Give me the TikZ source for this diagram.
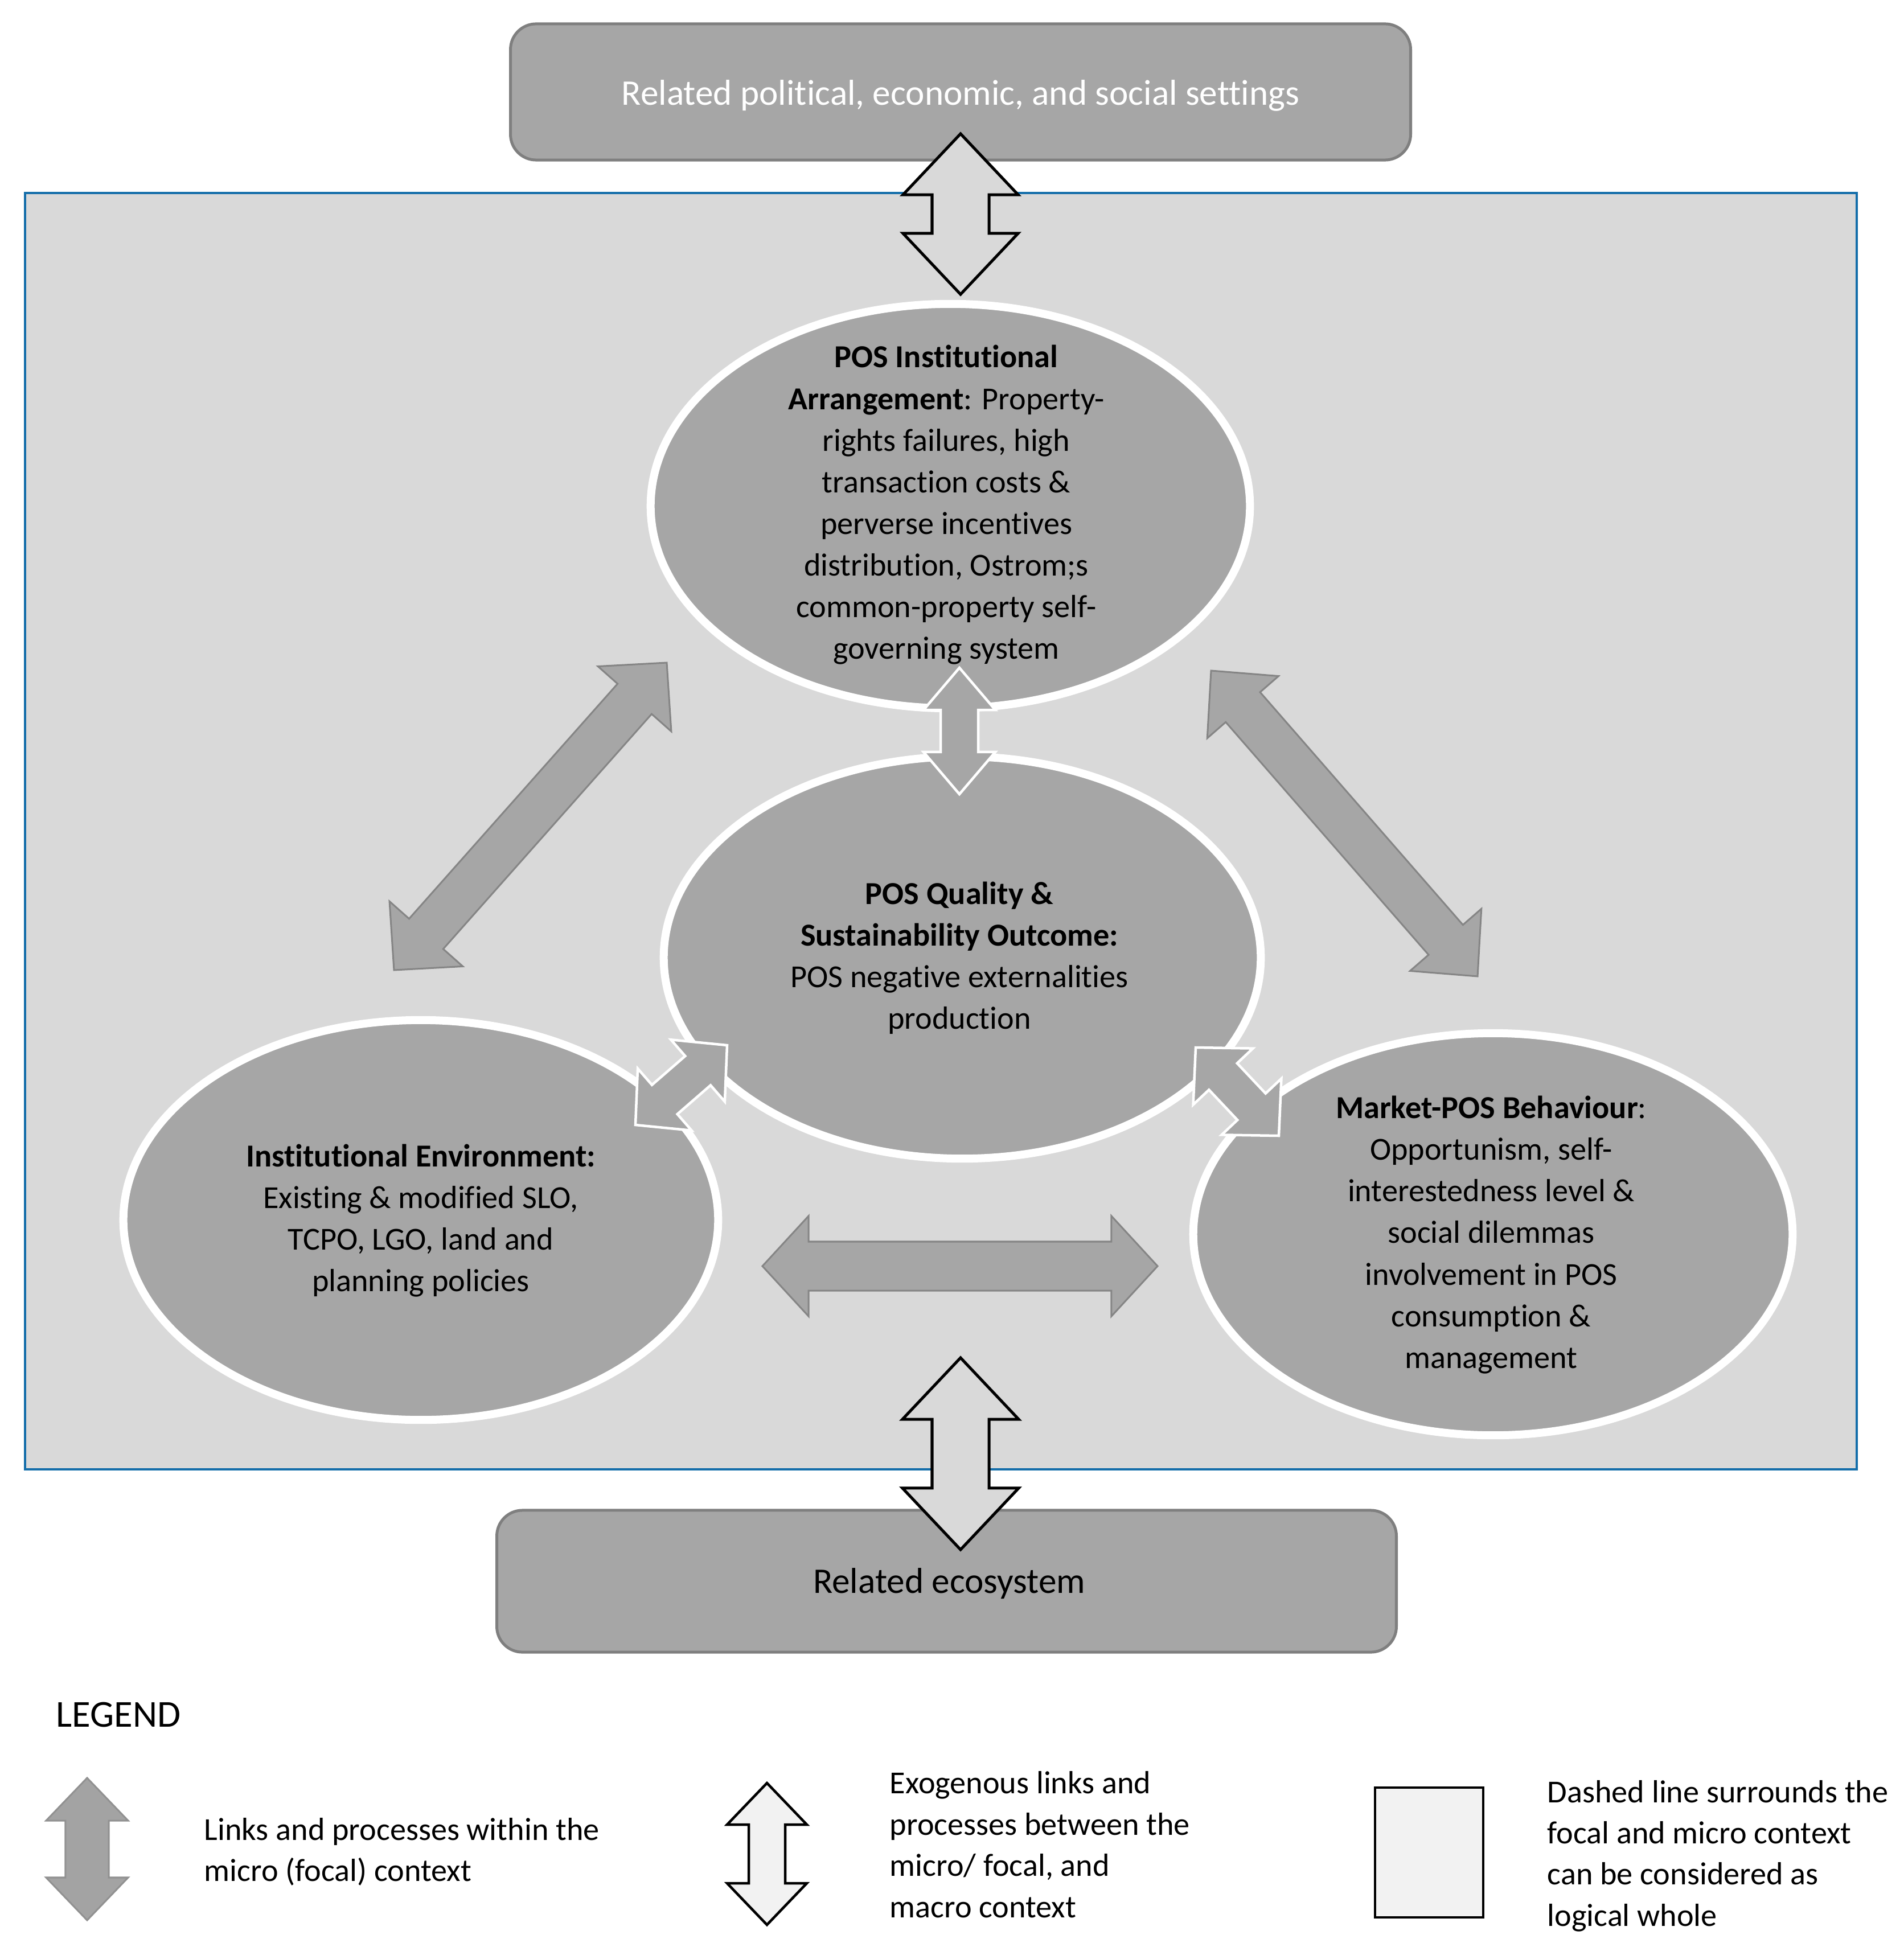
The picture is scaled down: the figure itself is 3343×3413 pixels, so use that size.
\documentclass[tikz,border=0pt]{standalone}
\usepackage{fontspec}
\setmainfont{Carlito}[Ligatures=NoCommon]
\usetikzlibrary{calc,shapes.geometric}
\definecolor{bgframe}{HTML}{D9D9D9}
\definecolor{ellfill}{HTML}{A6A6A6}
\definecolor{boxedge}{HTML}{7F7F7F}
\definecolor{frameblue}{RGB}{20,110,170}
\definecolor{legfill}{HTML}{F2F2F2}
\definecolor{arredge}{HTML}{858585}
\definecolor{legarr}{HTML}{A3A3A3}
% #1 style, #2 tip A, #3 tip B, #4 head length, #5 head half width, #6 shaft half width
\newcommand\blockarrow[6]{%
  \draw[#1] (#2)
    -- ($(#2)!#4!(#3)!#5!90:(#3)$)
    -- ($(#2)!#4!(#3)!#6!90:(#3)$)
    -- ($(#3)!#4!(#2)!#6!-90:(#2)$)
    -- ($(#3)!#4!(#2)!#5!-90:(#2)$)
    -- (#3)
    -- ($(#3)!#4!(#2)!#5!90:(#2)$)
    -- ($(#3)!#4!(#2)!#6!90:(#2)$)
    -- ($(#2)!#4!(#3)!#6!-90:(#3)$)
    -- ($(#2)!#4!(#3)!#5!-90:(#3)$)
    -- cycle;}
\begin{document}
\begin{tikzpicture}[x=0.01cm,y=-0.01cm,
  ellbox/.style={ellipse, draw=white, line width=0.14cm, fill=ellfill, inner sep=0pt},
  etext/.style={align=center, inner sep=0pt, font=\fontsize{16}{20.8}\selectfont},
  gbox/.style={rectangle, rounded corners=0.45cm, fill=ellfill, draw=boxedge, line width=0.05cm, inner sep=0pt},
  btext/.style={inner sep=0pt, font=\fontsize{18}{22}\selectfont},
  exoarr/.style={fill=bgframe, draw=black, line width=0.05cm, line join=miter},
  intarr/.style={fill=ellfill, draw=arredge, line width=0.03cm, line join=miter},
  wintarr/.style={fill=ellfill, draw=white, line width=0.045cm, line join=miter},
  legtext/.style={align=left, anchor=west, inner sep=0pt, font=\fontsize{16}{20.6}\selectfont}]
\useasboundingbox (0,0) rectangle (3343,3413);
\fill[white] (0,0) rectangle (3343,3413);

% frame
\node[draw=frameblue, line width=0.04cm, fill=bgframe, minimum width=32.15cm, minimum height=22.4cm, inner sep=0pt] (frame) at (1652.5,1460) {};

% outer boxes
\node[gbox, minimum width=15.8cm, minimum height=2.39cm] (topbox) at (1687,161.5) {};
\node[btext, text=white] (topboxtext) at (1687,168) {Related political, economic, and social settings};
\node[gbox, minimum width=15.79cm, minimum height=2.49cm] (botbox) at (1662.5,2777.5) {};
\node[btext] (botboxtext) at (1667,2782) {Related ecosystem};

% ellipses
\node[ellbox, minimum width=10.52cm, minimum height=7.10cm] (ellTop) at (1669,889) {};
\node[ellbox, minimum width=10.48cm, minimum height=7.06cm] (ellMid) at (1690,1682) {};
\node[ellbox, minimum width=10.44cm, minimum height=7.02cm] (ellLeft) at (739,2143) {};
\node[ellbox, minimum width=10.52cm, minimum height=7.06cm] (ellRight) at (2622,2168) {};

% ellipse texts
\node[etext] (tTop) at (1662,887) {\textbf{POS Institutional}\\\textbf{Arrangement}: Property-\\rights failures, high\\transaction costs \&\\perverse incentives\\distribution, Ostrom;s\\common-property self-\\governing system};
\node[etext] (tMid) at (1685,1683) {\textbf{POS Quality \&}\\\textbf{Sustainability Outcome:}\\POS negative externalities\\production};
\node[etext] (tLeft) at (739,2144) {\textbf{Institutional Environment:}\\Existing \& modified SLO,\\TCPO, LGO, land and\\planning policies};
\node[etext] (tRight) at (2619,2169) {\textbf{Market-POS Behaviour}:\\Opportunism, self-\\interestedness level \&\\social dilemmas\\involvement in POS\\consumption \&\\management};

% arrow tips
\coordinate (exoTa) at (1687,235);
\coordinate (exoTb) at (1687,517);
\coordinate (exoBa) at (1687,2385);
\coordinate (exoBb) at (1687,2722);
\coordinate (horA) at (1339,2224);
\coordinate (horB) at (2033,2224);
\coordinate (verA) at (1685,1173);
\coordinate (verB) at (1685,1395);
\coordinate (dlA) at (692,1704);
\coordinate (dlB) at (1171,1164);
\coordinate (drA) at (2127,1178);
\coordinate (drB) at (2595,1715);
\coordinate (slA) at (1116,1976);
\coordinate (slB) at (1277,1836);
\coordinate (srA) at (2100,1840);
\coordinate (srB) at (2246,1995);

% exogenous arrows
\blockarrow{exoarr}{exoTa}{exoTb}{1.07cm}{1.01cm}{0.50cm}
\blockarrow{exoarr}{exoBa}{exoBb}{1.08cm}{1.02cm}{0.50cm}

% internal arrows
\blockarrow{intarr}{horA}{horB}{0.81cm}{0.88cm}{0.43cm}
\blockarrow{intarr}{dlA}{dlB}{0.85cm}{0.86cm}{0.40cm}
\blockarrow{intarr}{drA}{drB}{0.85cm}{0.83cm}{0.40cm}
\blockarrow{wintarr}{verA}{verB}{0.74cm}{0.63cm}{0.33cm}
\blockarrow{wintarr}{slA}{slB}{0.68cm}{0.72cm}{0.34cm}
\blockarrow{wintarr}{srA}{srB}{0.70cm}{0.72cm}{0.34cm}

% legend
\node[anchor=west, inner sep=0pt, font=\fontsize{19}{23}\selectfont] (legtitle) at (98,3012) {LEGEND};
\coordinate (lg1A) at (153,3123);
\coordinate (lg1B) at (153,3373);
\coordinate (lg2A) at (1347,3132);
\coordinate (lg2B) at (1347,3381);
\blockarrow{fill=legarr, draw=arredge!90, line width=0.03cm}{lg1A}{lg1B}{0.75cm}{0.72cm}{0.38cm}
\blockarrow{fill=legfill, draw=black, line width=0.045cm, line join=miter}{lg2A}{lg2B}{0.73cm}{0.70cm}{0.32cm}
\node[draw=black, line width=0.045cm, fill=legfill, minimum width=1.9cm, minimum height=2.28cm, inner sep=0pt] (legbox) at (2510,3254) {};
\node[legtext] (leg1) at (358,3253) {Links and processes within the\\micro (focal) context};
\node[legtext] (leg2) at (1562,3240) {Exogenous links and\\processes between the\\micro/ focal, and\\macro context};
\node[legtext] (leg3) at (2717,3260) {Dashed line surrounds the\\focal and micro context\\can be considered as\\logical whole};
\end{tikzpicture}
\end{document}
